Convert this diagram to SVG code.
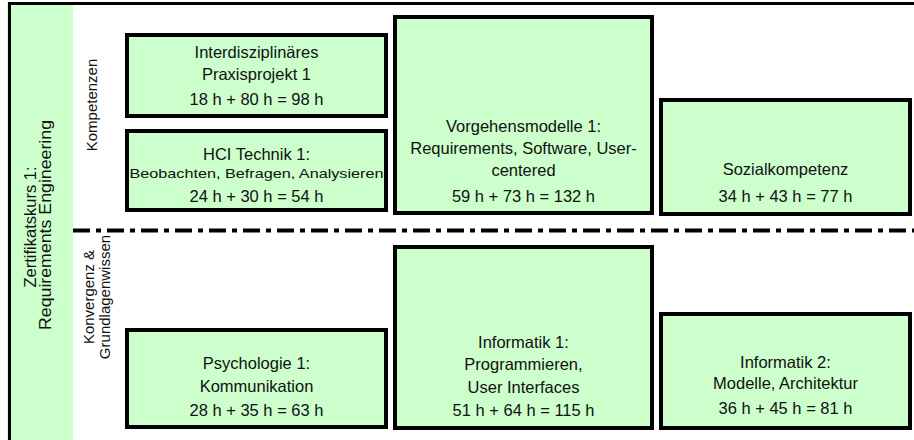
<svg xmlns="http://www.w3.org/2000/svg" width="914" height="440" viewBox="0 0 914 440">
<style>
.box{fill:#CCFFCC;stroke:#000;stroke-width:4}
text{font-family:"Liberation Sans",Arial,sans-serif;fill:#111;text-anchor:middle}
.t{font-size:16.5px}
.s{font-size:13px}
.v{font-size:16.5px}
.w{font-size:15px}
</style>
<rect width="914" height="440" fill="#fff"/>
<g id="frame">
<rect x="7" y="2" width="66" height="438" fill="#CCFFCC"/>
<line x1="8" y1="3.5" x2="914" y2="3.5" stroke="#000" stroke-width="3"/>
<line x1="9.5" y1="2" x2="9.5" y2="440" stroke="#000" stroke-width="3"/>
<text class="v" transform="translate(35.5,227) rotate(-90)">Zertifikatskurs 1:</text>
<text class="v" transform="translate(51,225) rotate(-90)" textLength="210" lengthAdjust="spacingAndGlyphs">Requirements Engineering</text>
<text class="w" transform="translate(97,105) rotate(-90)">Kompetenzen</text>
<text class="w" transform="translate(94,297) rotate(-90)">Konvergenz &amp;</text>
<text class="w" transform="translate(110,297) rotate(-90)">Grundlagenwissen</text>
</g>
<g id="connectors">
<line x1="73" y1="230.5" x2="914" y2="230.5" stroke="#000" stroke-width="4" stroke-dasharray="17 6 5 6"/>
</g>
<g id="interdisziplinaeres">
<rect class="box" x="127" y="35" width="259" height="81"/>
<text class="t" x="256.5" y="58">Interdisziplinäres</text>
<text class="t" x="256.5" y="80">Praxisprojekt 1</text>
<text class="t" x="256.5" y="105">18 h + 80 h = 98 h</text>
</g>
<g id="hci">
<rect class="box" x="127" y="131" width="259" height="79"/>
<text class="t" x="256.5" y="160">HCI Technik 1:</text>
<text class="s" x="256.5" y="178" textLength="254" lengthAdjust="spacingAndGlyphs">Beobachten, Befragen, Analysieren</text>
<text class="t" x="256.5" y="202">24 h + 30 h = 54 h</text>
</g>
<g id="vorgehensmodelle">
<rect class="box" x="395" y="17" width="257" height="196"/>
<text class="t" x="523.5" y="132">Vorgehensmodelle 1:</text>
<text class="t" x="523.5" y="154">Requirements, Software, User-</text>
<text class="t" x="523.5" y="176">centered</text>
<text class="t" x="523.5" y="202">59 h + 73 h = 132 h</text>
</g>
<g id="sozialkompetenz">
<rect class="box" x="661" y="100" width="249" height="114"/>
<text class="t" x="785.5" y="175">Sozialkompetenz</text>
<text class="t" x="785.5" y="202">34 h + 43 h = 77 h</text>
</g>
<g id="psychologie">
<rect class="box" x="127" y="330" width="259" height="97"/>
<text class="t" x="256.5" y="369">Psychologie 1:</text>
<text class="t" x="256.5" y="392">Kommunikation</text>
<text class="t" x="256.5" y="416">28 h + 35 h = 63 h</text>
</g>
<g id="informatik1">
<rect class="box" x="395" y="247" width="257" height="181"/>
<text class="t" x="523.5" y="348">Informatik 1:</text>
<text class="t" x="523.5" y="370">Programmieren,</text>
<text class="t" x="523.5" y="393">User Interfaces</text>
<text class="t" x="523.5" y="416">51 h + 64 h = 115 h</text>
</g>
<g id="informatik2">
<rect class="box" x="661" y="314" width="249" height="114"/>
<text class="t" x="785.5" y="368">Informatik 2:</text>
<text class="t" x="785.5" y="389">Modelle, Architektur</text>
<text class="t" x="785.5" y="414">36 h + 45 h = 81 h</text>
</g>
</svg>
